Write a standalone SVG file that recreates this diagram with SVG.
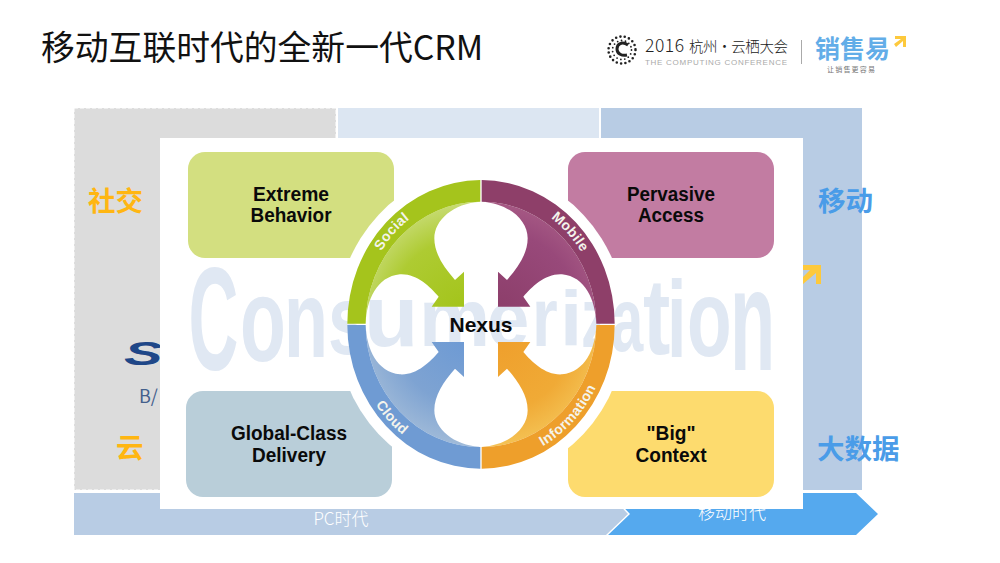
<svg xmlns="http://www.w3.org/2000/svg" xmlns:xlink="http://www.w3.org/1999/xlink" width="1000" height="563" viewBox="0 0 1000 563">
<style>
.cjk{font-family:"Noto Sans CJK SC","Noto Sans",sans-serif}
.yl{font-size:27.5px;font-weight:700;fill:#ffb612}
.bl{font-size:27.5px;font-weight:700;fill:#4a9ce8}
.lb{font-family:"Liberation Sans",Arial,sans-serif;font-weight:700;font-size:20px;fill:#0a0a0a;text-anchor:middle}
.wm{font-family:"Liberation Sans",Arial,sans-serif;font-weight:700;font-size:100px;fill:#e0e8f3}
.ring{font-family:"Liberation Sans",Arial,sans-serif;font-weight:700;font-size:42px;fill:#f4f4ec;text-anchor:middle;letter-spacing:1px}
.at{font-size:17px;fill:#fff;text-anchor:middle;font-weight:300}
</style>
<defs>
<path id="band" d="M22,461 A401,431 0 0 1 421,30 L421,95 A344,368 0 0 0 77,461 Z"/>
<path id="inner" d="M77,461 C80,390 110,320 180,313 C230,310 270,350 296,380 L275,410 L372,410 L372,305 L345,330 C310,290 283,250 283,205 C283,150 340,100 421,95 A344,368 0 0 0 77,461 Z"/>
<radialGradient id="gs" gradientUnits="userSpaceOnUse" cx="370" cy="420" r="390"><stop offset="0" stop-color="#a3c41a"/><stop offset=".55" stop-color="#aecb32"/><stop offset="1" stop-color="#d8e6a0"/></radialGradient>
<radialGradient id="gm" gradientUnits="userSpaceOnUse" cx="370" cy="420" r="390"><stop offset="0" stop-color="#8c3e6a"/><stop offset=".6" stop-color="#98497a"/><stop offset=".9" stop-color="#ab5f88"/><stop offset="1" stop-color="#a0557f"/></radialGradient>
<radialGradient id="gc" gradientUnits="userSpaceOnUse" cx="370" cy="420" r="390"><stop offset="0" stop-color="#6d9ad4"/><stop offset=".5" stop-color="#7ea3d2"/><stop offset="1" stop-color="#b4c8dc"/></radialGradient>
<radialGradient id="gi" gradientUnits="userSpaceOnUse" cx="370" cy="420" r="390"><stop offset="0" stop-color="#ef9f2c"/><stop offset=".55" stop-color="#f0aa36"/><stop offset="1" stop-color="#f7d268"/></radialGradient>
<path id="pSocial" d="M62,463 A361,392 0 0 1 423,71"/>
<path id="pMobile" d="M423,71 A361,392 0 0 1 784,463"/>
<path id="pCloud" d="M36,463 A387,417 0 0 0 423,880"/>
<path id="pInfo" d="M423,880 A387,417 0 0 0 810,463"/>
</defs>
<rect width="1000" height="563" fill="#fff"/>

<g id="background">
<rect x="74" y="108" width="262" height="382" fill="#dcdcdc" stroke="#fff" stroke-dasharray="4 2"/>
<rect x="338" y="108" width="261" height="382" fill="#dce6f2"/>
<rect x="601" y="108" width="261" height="382" fill="#b8cce4"/>
<path d="M74,493 H608 L628,514 L606,535 H74 Z" fill="#b8cce4"/>
<path d="M610,493 H856 L878,514 L856,535 H608 L630,514 Z" fill="#55a9ee"/>
<text class="cjk at" x="341" y="525">PC时代</text>
<text class="cjk at" x="732" y="519">移动时代</text>
<path d="M803,265 H821 V284 H816 V273 L803,284 V277 L810,270 H803 Z" fill="#fdc93c"/>
<text x="124" y="365" font-family="'Liberation Sans',sans-serif" font-size="34" font-weight="700" font-style="italic" fill="#1f4788" transform="translate(124 0) scale(1.7 1) translate(-124 0)">S</text>
<text class="cjk" x="139" y="403" font-size="18" fill="#44608c">B/</text>
</g>

<g id="panel">
<rect x="160" y="138" width="643" height="371" fill="#fff"/>
</g>

<g id="label-social"><text class="cjk yl" x="88" y="211">社交</text></g>
<g id="label-cloud"><text class="cjk yl" x="116" y="458">云</text></g>
<g id="label-mobile"><text class="cjk bl" x="818" y="211">移动</text></g>
<g id="label-bigdata"><text class="cjk bl" x="817" y="459">大数据</text></g>

<g id="node-extreme">
<rect x="188" y="152" width="206" height="106" rx="17" fill="#d3df80"/>
</g>
<g id="node-pervasive">
<rect x="568" y="152" width="206" height="106" rx="17" fill="#c27ca2"/>
</g>
<g id="node-global">
<rect x="186" y="391" width="206" height="106" rx="17" fill="#b9ced9"/>
</g>
<g id="node-context">
<rect x="568" y="391" width="206" height="106" rx="17" fill="#fddb6e"/>
</g>
<ellipse cx="481" cy="324.5" rx="145" ry="155" fill="#fff"/>

<g id="watermark">
<text class="wm" transform="translate(188.5 369.5) scale(.69 1.46)">C</text>
<text class="wm" transform="translate(240 361) scale(.75 1.18)">o</text>
<text class="wm" transform="translate(284 357) scale(.72 1.09)">n</text>
<text class="wm" transform="translate(328 354) scale(.71 .98)">s</text>
<text class="wm" transform="translate(364 346) scale(.89 .87)">u</text>
<text class="wm" transform="translate(419 346) scale(.8 .81)">m</text>
<text class="wm" transform="translate(487 346) scale(.76 .8)">e</text>
<text class="wm" transform="translate(532 346) scale(.66 .83)">r</text>
<text class="wm" transform="translate(560 346) scale(.8 .78)">i</text>
<text class="wm" transform="translate(581 347) scale(.6 .85)">z</text>
<text class="wm" transform="translate(611 351) scale(.58 .9)">a</text>
<text class="wm" transform="translate(643 354) scale(.82 1.08)">t</text>
<text class="wm" transform="translate(667 357) scale(.7 1.09)">i</text>
<text class="wm" transform="translate(687 356) scale(.73 1.1)">o</text>
<text class="wm" transform="translate(730 370) scale(.74 1.44)">n</text>
</g>

<g id="box-labels">
<text class="lb" x="291" y="201" textLength="76" lengthAdjust="spacingAndGlyphs">Extreme</text>
<text class="lb" x="291" y="222" textLength="81" lengthAdjust="spacingAndGlyphs">Behavior</text>
<text class="lb" x="671" y="201" textLength="88" lengthAdjust="spacingAndGlyphs">Pervasive</text>
<text class="lb" x="671" y="222" textLength="66" lengthAdjust="spacingAndGlyphs">Access</text>
<text class="lb" x="289" y="440" textLength="116" lengthAdjust="spacingAndGlyphs">Global-Class</text>
<text class="lb" x="289" y="462" textLength="74" lengthAdjust="spacingAndGlyphs">Delivery</text>
<text class="lb" x="671" y="440" textLength="49" lengthAdjust="spacingAndGlyphs">"Big"</text>
<text class="lb" x="671" y="462" textLength="71" lengthAdjust="spacingAndGlyphs">Context</text>
</g>

<g id="nexus" transform="translate(340 170) scale(.33333)">
<g id="node-social"><use xlink:href="#inner" href="#inner" fill="url(#gs)"/><use href="#band" xlink:href="#band" fill="#a5c41c"/></g>
<g id="node-mobile"><g transform="matrix(-1 0 0 1 846 0)"><use href="#inner" xlink:href="#inner" fill="url(#gm)"/><use href="#band" xlink:href="#band" fill="#8e3f69"/></g></g>
<g id="node-cloud"><g transform="matrix(1 0 0 -1 0 926)"><use href="#inner" xlink:href="#inner" fill="url(#gc)"/><use href="#band" xlink:href="#band" fill="#6f9bd3"/></g></g>
<g id="node-information"><g transform="matrix(-1 0 0 -1 846 926)"><use href="#inner" xlink:href="#inner" fill="url(#gi)"/><use href="#band" xlink:href="#band" fill="#ee9f2b"/></g></g>
<text class="ring"><textPath href="#pSocial" xlink:href="#pSocial" startOffset="50%">Social</textPath></text>
<text class="ring"><textPath href="#pMobile" xlink:href="#pMobile" startOffset="50%">Mobile</textPath></text>
<text class="ring"><textPath href="#pCloud" xlink:href="#pCloud" startOffset="50%">Cloud</textPath></text>
<text class="ring"><textPath href="#pInfo" xlink:href="#pInfo" startOffset="50%">Information</textPath></text>
</g>
<g id="node-nexus"><text x="481" y="332" font-family="'Liberation Sans',sans-serif" font-weight="700" font-size="21" fill="#0a0a0a" text-anchor="middle">Nexus</text></g>

<g id="title"><text class="cjk" x="41" y="60" font-size="33.8" fill="#111">移动互联时代的全新一代CRM</text></g>

<g id="logo-computing">
<circle cx="622" cy="50" r="13.5" fill="none" stroke="#222" stroke-width="2.6" stroke-linecap="round" stroke-dasharray="0 4.4"/>
<circle cx="622" cy="50" r="9.5" fill="none" stroke="#222" stroke-width="1.8" stroke-linecap="round" stroke-dasharray="0 4"/>
<path d="M628,45 C622,41 617,44 617,49 C617,54 622,56 627,55" fill="none" stroke="#222" stroke-width="3"/>
<text class="cjk" x="645" y="52" font-size="17.5" font-weight="300" fill="#222" textLength="39">2016</text>
<text class="cjk" x="689" y="52" font-size="14.5" font-weight="300" fill="#222" textLength="99">杭州·云栖大会</text>
<text x="645" y="65" font-family="'Liberation Sans',sans-serif" font-size="8" fill="#aaa" textLength="142">THE COMPUTING CONFERENCE</text>
<rect x="801" y="40" width="1" height="24" fill="#aaa"/>
</g>
<g id="logo-xiaoshouyi">
<text class="cjk" x="815" y="58" font-size="25" font-weight="700" fill="#62ade8">销售易</text>
<path d="M895,36 H906 V47 H903 V41 L896,47 L894,44 L901,39 H895 Z" fill="#fdc93c"/>
<text class="cjk" x="827" y="72" font-size="7" fill="#777" textLength="48">让销售更容易</text>
</g>
</svg>
